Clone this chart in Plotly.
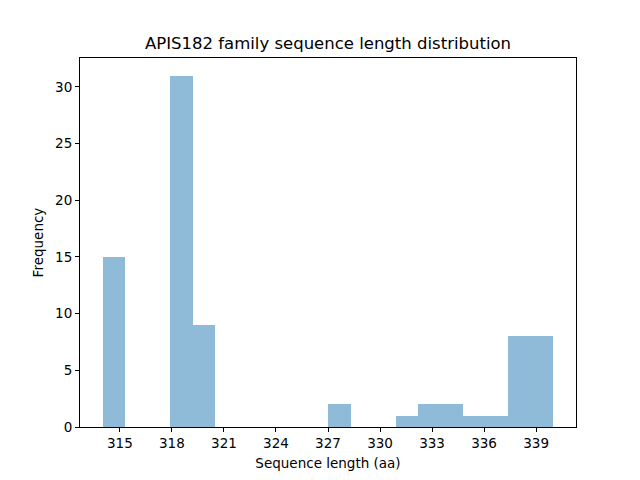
import plotly.graph_objects as go

# sequence lengths (aa) and how many family members have each length
lengths = [314, 318, 320, 328, 332, 333, 334, 335, 337, 338, 339]
counts = [15, 31, 9, 2, 1, 2, 2, 1, 1, 8, 8]

seq_lengths = []
for L, n in zip(lengths, counts):
    seq_lengths += [L] * n

lo, hi, nbins = 314, 340, 20
x_ticks = list(range(315, 340, 3))
y_ticks = list(range(0, 31, 5))

fig = go.Figure()
fig.add_trace(go.Histogram(
    x=seq_lengths,
    xbins=dict(start=lo, end=hi + 0.001, size=(hi - lo) / nbins),
    marker=dict(color='rgba(31,119,180,0.5)', line=dict(width=0)),
    showlegend=False,
))

axis_style = dict(
    showline=True, linecolor='black', linewidth=1, mirror=True,
    ticks='outside', ticklen=4, tickcolor='black', showgrid=False,
    zeroline=False, tickfont=dict(size=13.5, color='black'),
)

span = hi - lo
fig.update_xaxes(axis_style, range=[lo - 0.05 * span, hi + 0.05 * span],
                 tickvals=x_ticks,
                 title=dict(text='Sequence length (aa)', font=dict(size=13.5), standoff=8))
fig.update_yaxes(axis_style, range=[0, max(counts) * 1.05], tickvals=y_ticks,
                 title=dict(text='Frequency', font=dict(size=13.5), standoff=8))

# page body adds an 8px offset, so margins are trimmed to match
fig.update_layout(
    width=640, height=480,
    margin=dict(l=72, r=72, t=50, b=61),
    paper_bgcolor='white', plot_bgcolor='white',
    font=dict(family='DejaVu Sans', color='black'),
    bargap=0,
    title=dict(text='APIS182 family sequence length distribution',
               x=0.5, xref='paper', xanchor='center',
               y=1 - 35 / 480, yref='container', yanchor='middle',
               font=dict(size=16.5, color='black')),
)

fig.write_html("out.html")
